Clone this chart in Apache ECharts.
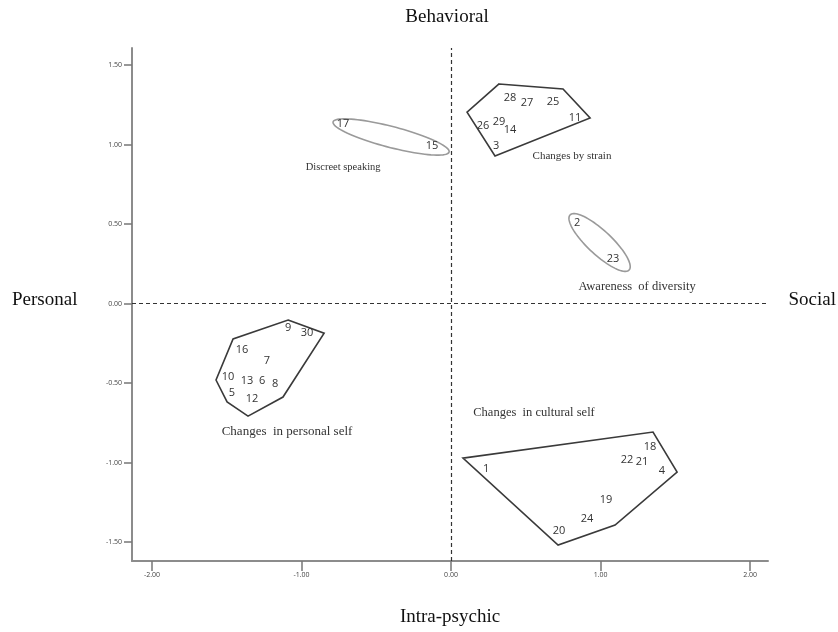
<!DOCTYPE html>
<html>
<head>
<meta charset="utf-8">
<script src="https://cdn.jsdelivr.net/npm/echarts@6/dist/echarts.min.js"></script>
<style>html,body{margin:0;padding:0;background:#fff}#c{width:838px;height:632px}</style>
</head>
<body>
<div id="c"></div>
<script>
// ---- data ----
const xTicks = [-2, -1, 0, 1, 2];
const yTicks = [-1.5, -1, -0.5, 0, 0.5, 1, 1.5];
const pointLabels = ['28','27','25','26','29','14','11','3','17','15','2','23','9','30','16','7','10','13','6','8','5','12','18','22','21','4','1','19','24','20'];
const pointX = [0.395,0.508,0.682,0.214,0.321,0.395,0.829,0.301,-0.722,-0.127,0.843,1.084,-1.090,-0.963,-1.398,-1.231,-1.492,-1.365,-1.264,-1.177,-1.465,-1.331,1.331,1.177,1.278,1.411,0.234,1.037,0.910,0.722];
const pointY = [1.292,1.261,1.267,1.116,1.142,1.091,1.167,0.991,1.129,0.991,0.506,0.280,-0.154,-0.186,-0.292,-0.362,-0.462,-0.487,-0.487,-0.506,-0.563,-0.601,-0.903,-0.984,-0.997,-1.053,-1.041,-1.236,-1.355,-1.431];

const hullStrain   = [[0.321,1.381],[0.749,1.349],[0.930,1.167],[0.294,0.928],[0.107,1.204]];
const hullPersonal = [[-1.090,-0.104],[-0.849,-0.186],[-1.124,-0.588],[-1.358,-0.708],[-1.498,-0.619],[-1.572,-0.481],[-1.458,-0.223]];
const hullCultural = [[0.080,-0.972],[1.351,-0.808],[1.512,-1.060],[1.097,-1.393],[0.716,-1.519]];
const hulls = [hullStrain, hullPersonal, hullCultural];

const ellipseDiscreet  = [[-0.789,1.142],[-0.013,0.953]];
const ellipseAwareness = [[0.796,0.557],[1.191,0.211]];
const ellipses = [ellipseDiscreet, ellipseAwareness];

const groupNames = ['Discreet speaking','Changes by strain','Awareness  of diversity','Changes  in personal self','Changes  in cultural self'];
const groupX = [-0.722, 0.809, 1.244, -1.097, 0.555];
const groupY = [0.858, 0.928, 0.104, -0.808, -0.689];

// ---- styles ----
const groupFontSize = [10.5, 11, 12.5, 13, 12.5];
const ellipseMinor = [10.5, 12];
const serif = '"Liberation Serif", "DejaVu Serif", serif';
const sans = '"Open Sans", "Liberation Sans", sans-serif';
const titleFont = '19px ' + serif;

const chart = echarts.init(document.getElementById('c'));
const option = {
  animation: false,
  backgroundColor: '#fff',
  grid: { left: 132, right: 70, top: 48, bottom: 71, containLabel: false },
  xAxis: {
    type: 'value', min: -2.134, max: 2.12,
    axisLine: { show: true, onZero: false, lineStyle: { color: '#8c8c8c', width: 2 } },
    axisTick: { show: true, length: 10, customValues: xTicks, lineStyle: { color: '#777', width: 1.5 } },
    axisLabel: { show: true, customValues: xTicks, margin: 10, fontSize: 7, color: '#444', fontFamily: sans,
      formatter: v => v.toFixed(2) },
    splitLine: { show: false }
  },
  yAxis: {
    type: 'value', min: -1.619, max: 1.607,
    axisLine: { show: true, onZero: false, lineStyle: { color: '#8c8c8c', width: 2 } },
    axisTick: { show: true, length: 8, customValues: yTicks, lineStyle: { color: '#777', width: 1.5 } },
    axisLabel: { show: true, customValues: yTicks, margin: 10, fontSize: 7, color: '#444', fontFamily: sans,
      formatter: v => v.toFixed(2) },
    splitLine: { show: false }
  },
  graphic: [
    { type: 'text', x: 447, y: 17, style: { text: 'Behavioral', font: titleFont, fill: '#111', align: 'center', verticalAlign: 'middle' } },
    { type: 'text', x: 450, y: 617, style: { text: 'Intra-psychic', font: titleFont, fill: '#111', align: 'center', verticalAlign: 'middle' } },
    { type: 'text', x: 12, y: 300, style: { text: 'Personal', font: titleFont, fill: '#111', align: 'left', verticalAlign: 'middle' } },
    { type: 'text', x: 836, y: 300, style: { text: 'Social', font: titleFont, fill: '#111', align: 'right', verticalAlign: 'middle' } }
  ],
  series: [
    {
      type: 'custom', name: 'hulls',
      data: hulls.map((h, i) => [h[0][0], h[0][1], i]),
      renderItem: (params, api) => {
        const pts = hulls[params.dataIndex].map(p => api.coord(p));
        return { type: 'polygon', shape: { points: pts },
          style: { fill: 'none', stroke: '#3a3a3a', lineWidth: 1.6 } };
      },
      markLine: {
        silent: true, symbol: 'none', label: { show: false },
        lineStyle: { type: [4, 3], color: '#333', width: 1.2 },
        data: [{ xAxis: 0 }, { yAxis: 0 }]
      }
    },
    {
      type: 'custom', name: 'ellipses',
      data: ellipses.map((e, i) => [e[0][0], e[0][1], i]),
      renderItem: (params, api) => {
        const e = ellipses[params.dataIndex];
        const p1 = api.coord(e[0]), p2 = api.coord(e[1]);
        const cx = (p1[0] + p2[0]) / 2, cy = (p1[1] + p2[1]) / 2;
        const a = Math.hypot(p2[0] - p1[0], p2[1] - p1[1]) / 2;
        const b = ellipseMinor[params.dataIndex];
        const ang = Math.atan2(p2[1] - p1[1], p2[0] - p1[0]);
        const pts = [];
        for (let k = 0; k < 90; k++) {
          const t = k / 90 * Math.PI * 2;
          const ex = a * Math.cos(t), ey = b * Math.sin(t);
          pts.push([cx + ex * Math.cos(ang) - ey * Math.sin(ang), cy + ex * Math.sin(ang) + ey * Math.cos(ang)]);
        }
        return { type: 'polygon', shape: { points: pts },
          style: { fill: 'none', stroke: '#9a9a9a', lineWidth: 1.6 } };
      }
    },
    {
      type: 'custom', name: 'points',
      data: pointX.map((x, i) => [x, pointY[i], i]),
      renderItem: (params, api) => {
        const p = api.coord([api.value(0), api.value(1)]);
        return { type: 'text', x: p[0], y: p[1],
          style: { text: pointLabels[params.dataIndex], font: '11px ' + sans, fill: '#333',
            align: 'center', verticalAlign: 'middle' } };
      }
    },
    {
      type: 'custom', name: 'groups',
      data: groupX.map((x, i) => [x, groupY[i], i]),
      renderItem: (params, api) => {
        const p = api.coord([api.value(0), api.value(1)]);
        return { type: 'text', x: p[0], y: p[1],
          style: { text: groupNames[params.dataIndex], font: groupFontSize[params.dataIndex] + 'px ' + serif, fill: '#333',
            align: 'center', verticalAlign: 'middle' } };
      }
    }
  ]
};
chart.setOption(option);
</script>
</body>
</html>
